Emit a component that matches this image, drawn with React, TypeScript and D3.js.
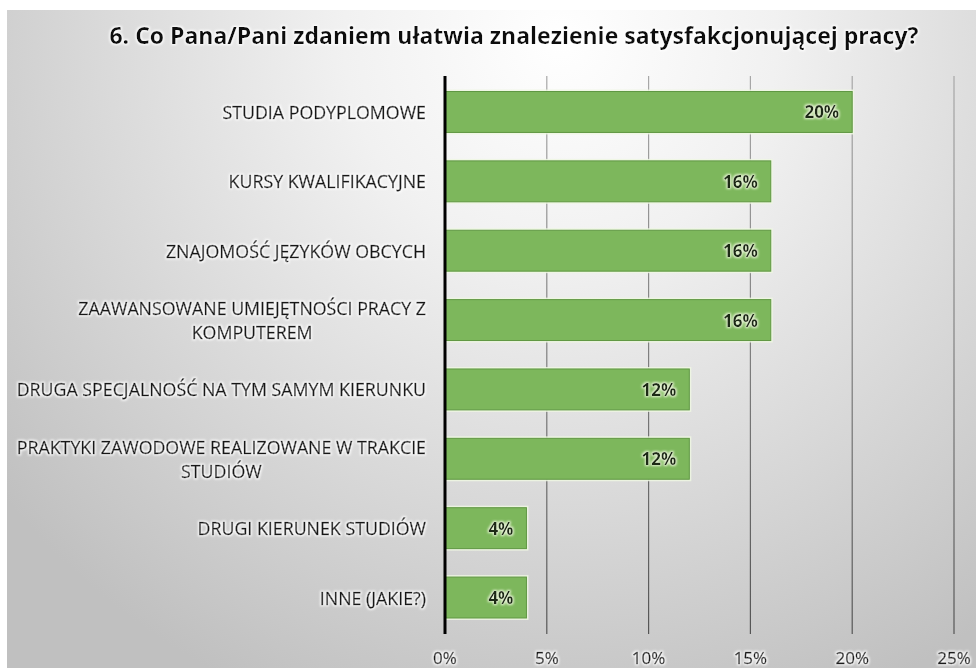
import React, { useEffect, useRef } from "react";
import * as d3 from "d3";

const TITLE = "6. Co Pana/Pani zdaniem ułatwia znalezienie satysfakcjonującej pracy?";

const categories: string[] = [
  "STUDIA PODYPLOMOWE",
  "KURSY KWALIFIKACYJNE",
  "ZNAJOMOŚĆ JĘZYKÓW OBCYCH",
  "ZAAWANSOWANE UMIEJĘTNOŚCI PRACY Z\nKOMPUTEREM",
  "DRUGA SPECJALNOŚĆ NA TYM SAMYM KIERUNKU",
  "PRAKTYKI ZAWODOWE REALIZOWANE W TRAKCIE\nSTUDIÓW",
  "DRUGI KIERUNEK STUDIÓW",
  "INNE (JAKIE?)",
];

const values: number[] = [0.2, 0.16, 0.16, 0.16, 0.12, 0.12, 0.04, 0.04];

const xTicks: number[] = [0, 0.05, 0.1, 0.15, 0.2, 0.25];

const W = 976;
const H = 668;
const FONT = "'Open Sans', 'Noto Sans', sans-serif";

export default function App() {
  const ref = useRef<SVGSVGElement>(null);

  useEffect(() => {
    const svg = d3.select(ref.current);
    svg.selectAll("*").remove();

    const defs = svg.append("defs");
    const rg = defs
      .append("radialGradient")
      .attr("id", "bg")
      .attr("gradientUnits", "userSpaceOnUse")
      .attr("cx", 560)
      .attr("cy", 40)
      .attr("fx", 560)
      .attr("fy", 40)
      .attr("r", 720);
    rg.append("stop").attr("offset", "0%").attr("stop-color", "#ffffff");
    rg.append("stop").attr("offset", "30%").attr("stop-color", "#f1f1f1");
    rg.append("stop").attr("offset", "100%").attr("stop-color", "#c0c0c0");

    const makeGlow = (id: string, color: string) => {
      const f = defs
        .append("filter")
        .attr("id", id)
        .attr("x", "-10%")
        .attr("y", "-40%")
        .attr("width", "120%")
        .attr("height", "180%");
      f.append("feMorphology").attr("in", "SourceAlpha").attr("operator", "dilate").attr("radius", 1).attr("result", "d");
      f.append("feGaussianBlur").attr("in", "d").attr("stdDeviation", 1.2).attr("result", "b");
      f.append("feFlood").attr("flood-color", color).attr("flood-opacity", 0.95).attr("result", "c");
      f.append("feComposite").attr("in", "c").attr("in2", "b").attr("operator", "in").attr("result", "g");
      const m = f.append("feMerge");
      m.append("feMergeNode").attr("in", "g");
      m.append("feMergeNode").attr("in", "SourceGraphic");
    };
    makeGlow("glow", "#ffffff");
    makeGlow("glowG", "#eaf6d8");

    // background
    svg.append("rect").attr("x", 0).attr("y", 0).attr("width", W).attr("height", H).attr("fill", "#ffffff");
    svg.append("rect").attr("x", 7).attr("y", 10).attr("width", W - 7).attr("height", H - 10).attr("fill", "url(#bg)");

    // title
    svg
      .append("text")
      .attr("x", 514)
      .attr("y", 35)
      .attr("text-anchor", "middle")
      .attr("dominant-baseline", "central")
      .attr("font-family", FONT)
      .attr("font-weight", 700)
      .attr("font-size", 23)
      .attr("fill", "#111")
      .attr("filter", "url(#glow)")
      .text(TITLE);

    const x = d3.scaleLinear().domain([0, 0.25]).range([445, 954]);
    const y = d3
      .scaleBand<string>()
      .domain(categories)
      .range([77.3, 632.2])
      .paddingInner(0.41)
      .paddingOuter(0.205);

    const plotTop = 76;
    const plotBottom = 634;

    // gridlines
    const gridGrad = defs
      .append("linearGradient")
      .attr("id", "gridGrad")
      .attr("gradientUnits", "userSpaceOnUse")
      .attr("x1", 0)
      .attr("y1", plotTop)
      .attr("x2", 0)
      .attr("y2", plotBottom);
    gridGrad.append("stop").attr("offset", "0%").attr("stop-color", "#a8a8a8");
    gridGrad.append("stop").attr("offset", "100%").attr("stop-color", "#555555");

    svg
      .append("g")
      .selectAll("rect")
      .data(xTicks.filter((t) => t > 0))
      .join("rect")
      .attr("x", (d) => x(d) - 0.6)
      .attr("width", 1.2)
      .attr("y", plotTop)
      .attr("height", plotBottom - plotTop)
      .attr("fill", "url(#gridGrad)");

    // tick labels
    svg
      .append("g")
      .selectAll("text")
      .data(xTicks)
      .join("text")
      .attr("x", (d) => x(d))
      .attr("y", 657)
      .attr("text-anchor", "middle")
      .attr("dominant-baseline", "central")
      .attr("font-family", FONT)
      .attr("font-size", 17)
      .attr("fill", "#1e1e1e")
      .attr("stroke", "#1e1e1e")
      .attr("stroke-width", 0.45)
      .attr("filter", "url(#glow)")
      .text((d) => d3.format(".0%")(d));

    // bars
    const bw = y.bandwidth();
    const bars = svg.append("g");
    bars
      .selectAll("rect.halo")
      .data(categories)
      .join("rect")
      .attr("class", "halo")
      .attr("x", x(0))
      .attr("y", (d) => (y(d) as number) - 2)
      .attr("width", (d, i) => x(values[i]) - x(0) + 2)
      .attr("height", bw + 4)
      .attr("fill", "#eef7e2")
      .attr("opacity", 0.85);
    bars
      .selectAll("rect.bar")
      .data(categories)
      .join("rect")
      .attr("class", "bar")
      .attr("x", x(0))
      .attr("y", (d) => y(d) as number)
      .attr("width", (d, i) => x(values[i]) - x(0))
      .attr("height", bw)
      .attr("fill", "#7db75c")
      .attr("stroke", "#5f9742")
      .attr("stroke-width", 1);

    // value labels
    svg
      .append("g")
      .selectAll("text")
      .data(categories)
      .join("text")
      .attr("x", (d, i) => x(values[i]) - 13)
      .attr("y", (d) => (y(d) as number) + bw / 2)
      .attr("text-anchor", "end")
      .attr("dominant-baseline", "central")
      .attr("font-family", FONT)
      .attr("font-weight", 700)
      .attr("font-size", 17)
      .attr("fill", "#1d2a14")
      .attr("filter", "url(#glowG)")
      .text((d, i) => d3.format(".0%")(values[i]));

    // axis line
    svg
      .append("line")
      .attr("x1", x(0))
      .attr("x2", x(0))
      .attr("y1", plotTop)
      .attr("y2", plotBottom)
      .attr("stroke", "#000")
      .attr("stroke-width", 3);

    // category labels
    const labelRight = 426;
    const lineH = 24;
    const lg = svg.append("g");
    categories.forEach((c) => {
      const lines = c.split("\n");
      const cy = (y(c) as number) + bw / 2;
      const t = lg
        .append("text")
        .attr("font-family", FONT)
        .attr("font-size", 17.8)
        .attr("fill", "#161616")
        .attr("stroke", "#161616")
        .attr("stroke-width", 0.45)
        .attr("filter", "url(#glow)");
      const spans = lines.map((ln, k) =>
        t
          .append("tspan")
          .attr("y", cy + (k - (lines.length - 1) / 2) * lineH)
          .attr("dominant-baseline", "central")
          .text(ln)
      );
      const widths = spans.map((s) => (s.node() as SVGTextContentElement).getComputedTextLength());
      const maxW = Math.max(...widths);
      const center = labelRight - maxW / 2;
      spans.forEach((s) => s.attr("x", center).attr("text-anchor", "middle"));
    });
  }, []);

  return (
    <svg
      ref={ref}
      width={W}
      height={H}
      style={{ position: "absolute", left: 0, top: 0, display: "block" }}
    />
  );
}
